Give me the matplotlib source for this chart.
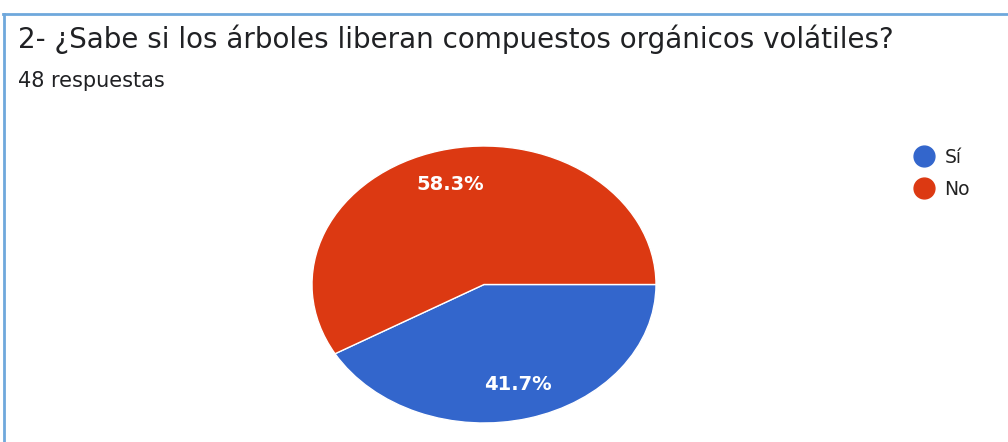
import matplotlib.pyplot as plt
from matplotlib.lines import Line2D

# Survey data
labels = ['Sí', 'No']
counts = [20, 28]
colors = ['#3366cc', '#dc3912']
title = '2- ¿Sabe si los árboles liberan compuestos orgánicos volátiles?'
subtitle = '48 respuestas'

W, H = 1008, 442
plt.rcParams['font.family'] = ['DejaVu Sans']
fig = plt.figure(figsize=(W / 100, H / 100), dpi=100)

# Pie axes placed in pixel box, stretched like the screenshot
x0, x1, y0, y1 = 312, 656, 146, 423
ax = fig.add_axes([x0 / W, 1 - y1 / H, (x1 - x0) / W, (y1 - y0) / H])
wedges, texts, autotexts = ax.pie(
    counts, colors=colors, startangle=0, counterclock=False,
    autopct='%1.1f%%', pctdistance=0.75,
    wedgeprops=dict(edgecolor='white', linewidth=1.0),
    textprops=dict(color='white', fontsize=14, fontweight='bold'))
ax.set_aspect('auto')
ax.set_xlim(-1, 1)
ax.set_ylim(-1, 1)

# Title and subtitle
fig.text(18 / W, 1 - 39 / H, title, fontsize=20, color='#202124',
         va='center', ha='left')
fig.text(18 / W, 1 - 81 / H, subtitle, fontsize=15, color='#202124',
         va='center', ha='left')

# Legend
handles = [Line2D([], [], marker='o', linestyle='none', markersize=15,
                  markerfacecolor=c, markeredgecolor=c) for c in colors]
fig.legend(handles, labels, loc='upper left', frameon=False,
           bbox_to_anchor=(888 / W, 1 - 131 / H), fontsize=13.5,
           handletextpad=0.1, labelspacing=0.7, labelcolor='#222222')

# Blue frame of the screenshot (top and left edges)
frame = '#6fa8dc'
fig.add_artist(Line2D([3 / W, 1], [1 - 14 / H, 1 - 14 / H], color=frame,
                      linewidth=2, transform=fig.transFigure))
fig.add_artist(Line2D([4 / W, 4 / W], [0, 1 - 14 / H], color=frame,
                      linewidth=2, transform=fig.transFigure))

fig.savefig('out.png', dpi=100)
